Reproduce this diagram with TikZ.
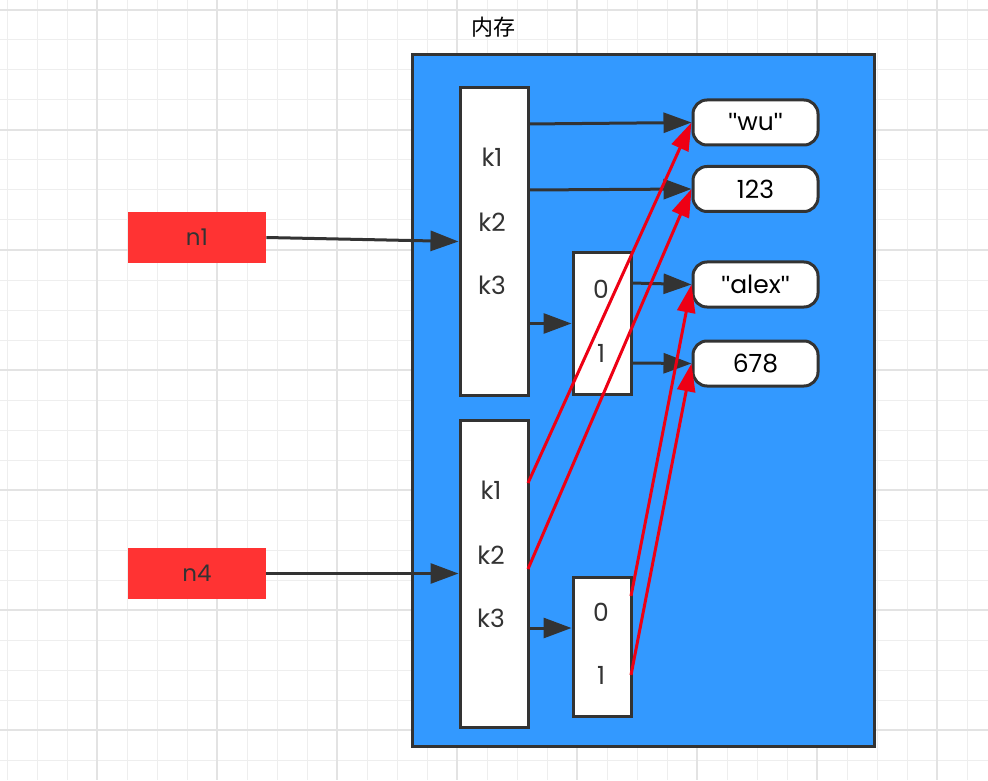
\documentclass[tikz,border=0pt]{standalone}
\usepackage{fontspec}
\setmainfont{Poppins}
\newfontfamily\cjk{Noto Sans CJK SC}
\newfontfamily\qfont{Liberation Sans}
\usetikzlibrary{arrows.meta}

\definecolor{memblue}{RGB}{51,153,255}
\definecolor{darkline}{RGB}{51,51,51}
\definecolor{nred}{RGB}{255,51,51}
\definecolor{arrred}{RGB}{238,0,20}
\newcommand{\dq}{{\qfont\symbol{34}}}

\begin{document}
\begin{tikzpicture}[x=0.5pt,y=-0.5pt,
    gridline/.style={draw=gray!13,line width=0.5pt},
    gridbold/.style={draw=gray!22,line width=0.6pt},
    box/.style={draw=darkline,line width=1.5pt,fill=white,inner sep=0pt},
    valbox/.style={box,rounded corners=7pt,minimum width=62.5pt,minimum height=22.5pt,font=\fontsize{12.5}{14}\selectfont},
    refbox/.style={fill=nred,inner sep=0pt,minimum width=69pt,minimum height=25.5pt,font=\fontsize{11.5}{13}\selectfont,text=darkline},
    keytxt/.style={font=\fontsize{12.5}{14}\selectfont,text=darkline,inner sep=0pt},
    blk/.style={draw=darkline,line width=1.5pt,-{Triangle[length=14pt,width=10pt]}},
    redarr/.style={draw=arrred,line width=1.5pt,-{Triangle[length=14pt,width=9pt]}}]
        \useasboundingbox (0,0) rectangle (988,780);
        \fill[white] (0,0) rectangle (988,780);
        % grid
        \foreach \x in {7,37,...,967} \draw[gridline] (\x,0)--(\x,780);
        \foreach \y in {10,40,...,760} \draw[gridline] (0,\y)--(988,\y);
        \foreach \x in {97,217,...,937} \draw[gridbold] (\x,0)--(\x,780);
        \foreach \y in {10,130,...,730} \draw[gridbold] (0,\y)--(988,\y);

        % memory
        \node [font=\cjk\fontsize{11}{13}\selectfont] (title) at(493,27) {内存};
        \draw [fill=memblue,draw=darkline,line width=1.5pt] (412,55) rectangle (874,746);

        % references
        \node [refbox] (nA) at(197,237.5) {n1};
        \node [refbox] (nB) at(197,573.5) {n4};

        % dicts and lists
        \node [box,minimum width=34pt,minimum height=153.5pt] (dA) at(494,241.5) {};
        \node [box,minimum width=34pt,minimum height=153.5pt] (dB) at(494,573.5) {};
        \node [box,minimum width=29pt,minimum height=70.5pt] (lA) at(602,323.5) {};
        \node [box,minimum width=29pt,minimum height=69.5pt] (lB) at(602,646.5) {};
        \node [keytxt] (kA1) at(492,157) {k1};
        \node [keytxt] (kA2) at(492,222) {k2};
        \node [keytxt] (kA3) at(492,285) {k3};
        \node [keytxt] (kB1) at(491,490) {k1};
        \node [keytxt] (kB2) at(491,555) {k2};
        \node [keytxt] (kB3) at(491,618) {k3};
        \node [keytxt] (iA0) at(601,289) {0};
        \node [keytxt] (iA1) at(601,353) {1};
        \node [keytxt] (iB0) at(601,612) {0};
        \node [keytxt] (iB1) at(601,675) {1};

        % values
        \node [valbox] (wu) at(755.5,122.5) {\dq wu\dq};
        \node [valbox] (vnum) at(755.5,189) {123};
        \node [valbox] (alex) at(755.5,284.5) {\dq alex\dq};
        \node [valbox] (vsix) at(755.5,363.5) {678};

        % pointer starts
        \coordinate (pA1) at(528,124);
        \coordinate (pA2) at(528,190);
        \coordinate (pA3) at(528,323.5);
        \coordinate (pL0) at(631,283);
        \coordinate (pL1) at(631,363);
        \coordinate (pB1) at(528,483);
        \coordinate (pB2) at(528,569);
        \coordinate (pB3) at(528,628);
        \coordinate (pM0) at(631,596);
        \coordinate (pM1) at(631,675);

        \draw [blk] (nA.east)--(dA.west);
        \draw [blk] (nB.east)--(dB.west);
        \draw [blk] (pA1)--(wu.west);
        \draw [blk] (pA2)--(vnum.west);
        \draw [blk] (pA3)--(lA.west);
        \draw [blk] (pL0)--(alex.west);
        \draw [blk] (pL1)--(vsix.west);
        \draw [blk] (pB3)--(pB3 -| lB.west);

        \draw [redarr] (pB1)--(wu.west);
        \draw [redarr] (pB2)--(vnum.west);
        \draw [redarr] (pM0)--(alex.west);
        \draw [redarr] (pM1)--(vsix.west);
    \end{tikzpicture}
\end{document}
